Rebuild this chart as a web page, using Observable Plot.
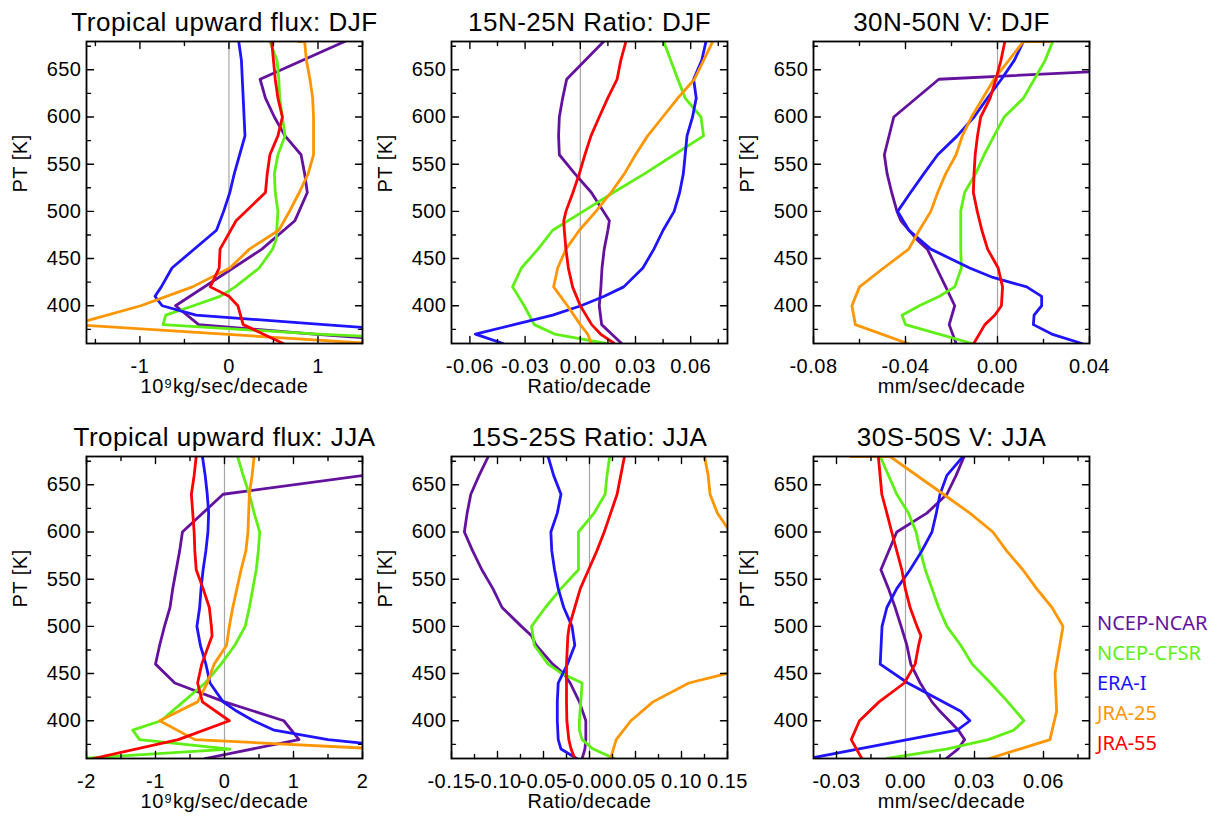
<!DOCTYPE html>
<html><head><meta charset="utf-8">
<script src="https://cdn.jsdelivr.net/npm/d3@7"></script>
<script src="https://cdn.jsdelivr.net/npm/@observablehq/plot@0.6"></script>
<style>
body{margin:0;background:#fff;width:1217px;height:821px;position:relative;overflow:hidden;font-family:"Liberation Sans",Arial,sans-serif}
.panel{position:absolute}
.leg{position:absolute;left:1097px;font-family:"Noto Sans",sans-serif;font-size:20px;line-height:20px;white-space:nowrap}
</style></head><body>
<div id="root"></div>
<script>
// Potential temperature levels (K)
const levels = [360,370,380,390,400,410,420,430,440,450,460,470,480,490,500,520,540,560,580,600,620,640,660,680];

// Tropical upward flux: DJF (10^9 kg/sec/decade)
const fluxDJF_ncar  = [2.4, 0.95, -0.34, null, -0.60, null, null, null, null, null, 0.37, null, null, 0.74, null, 0.88, 0.85, 0.81, 0.63, 0.51, 0.41, 0.35, null, 1.30];
const fluxDJF_cfsr  = [3.3, 1.0, -0.74, -0.71, -0.40, -0.10, 0.07, null, 0.34, null, 0.49, 0.53, null, null, 0.55, 0.52, 0.51, 0.55, 0.63, 0.60, 0.57, 0.56, 0.54, 0.46];
const fluxDJF_era   = [3.5, 2.5, 1.07, -0.37, -0.75, -0.83, -0.76, null, -0.64, null, null, null, -0.14, null, -0.06, 0.01, 0.06, 0.12, 0.18, 0.17, 0.16, 0.15, 0.14, 0.11];
const fluxDJF_jra25 = [1.6, null, -1.75, null, -0.99, null, -0.41, null, 0.01, null, 0.23, null, 0.56, null, 0.68, 0.79, 0.89, 0.95, 0.95, 0.95, 0.94, 0.91, 0.87, 0.85];
const fluxDJF_jra55 = [0.61, null, 0.16, null, 0.10, 0.0, -0.21, null, -0.11, null, -0.10, null, null, 0.08, null, 0.41, 0.43, 0.46, 0.55, 0.60, 0.55, 0.52, 0.50, 0.48];

// 15N-25N Ratio: DJF
const ratioDJF_ncar  = [0.0225, 0.017, 0.0116, null, 0.0103, null, 0.0112, null, 0.0118, null, 0.013, null, 0.015, 0.0158, null, 0.006, -0.003, -0.0114, -0.0118, -0.0114, -0.0096, -0.0074, null, 0.0127];
const ratioDJF_cfsr  = [0.014, -0.014, -0.025, null, -0.0305, null, -0.0368, null, -0.032, null, -0.023, null, -0.015, null, 0.0016, 0.018, 0.035, 0.051, 0.067, 0.0656, 0.057, 0.053, null, 0.0453];
const ratioDJF_era   = [-0.042, -0.057, -0.036, -0.015, 0.0004, 0.013, 0.0236, null, 0.034, null, 0.040, null, 0.045, null, 0.051, 0.054, 0.056, 0.057, 0.058, 0.061, 0.063, 0.0616, 0.066, 0.0683];
const ratioDJF_jra25 = [0.006, 0.004, 0.0, null, -0.007, null, -0.0145, null, -0.0123, null, -0.0078, null, -0.0005, null, 0.0085, 0.0167, 0.024, 0.030, 0.0366, 0.0448, 0.053, 0.062, 0.067, 0.072];
const ratioDJF_jra55 = [0.0185, 0.011, 0.0062, null, 0.0, null, -0.0042, null, -0.0065, null, -0.0078, null, -0.0087, -0.009, -0.0078, -0.004, -0.0005, 0.0025, 0.0058, 0.0103, 0.0149, 0.020, 0.022, 0.0248];

// 30N-50N V: DJF (mm/sec/decade)
const vDJF_ncar  = [-0.018, null, -0.021, null, -0.0186, null, -0.0225, null, -0.0265, null, -0.0305, -0.035, null, -0.042, -0.0437, -0.046, -0.048, -0.0492, null, -0.0451, null, -0.0255, 0.14, 0.2];
const vDJF_cfsr  = [-0.011, null, -0.040, -0.0415, -0.034, -0.0252, -0.0186, null, -0.0157, null, -0.016, null, -0.016, null, -0.016, -0.0143, -0.0095, -0.0058, -0.0015, 0.0029, 0.0113, 0.016, 0.0207, 0.024];
const vDJF_era   = [0.0367, 0.0236, 0.0156, 0.0159, 0.0192, 0.0192, 0.0127, -0.002, -0.0121, null, -0.029, null, -0.0385, null, -0.0434, -0.0378, -0.032, -0.026, -0.0175, -0.0102, -0.0044, 0.0017, 0.0073, 0.0113];
const vDJF_jra25 = [-0.039, null, -0.0618, null, -0.0633, null, -0.060, null, -0.0495, null, -0.0386, null, -0.034, null, -0.029, -0.026, -0.0225, -0.018, -0.0153, -0.0113, -0.0064, -0.0015, null, 0.0113];
const vDJF_jra55 = [-0.0103, null, -0.0055, -0.0012, 0.0017, null, 0.0022, null, 0.0003, null, -0.0043, null, -0.0068, null, -0.0088, -0.0105, -0.0102, -0.0097, -0.0087, -0.0073, -0.0032, -0.0007, 0.0015, 0.0032];

// Tropical upward flux: JJA
const fluxJJA_ncar  = [-0.28, null, 1.08, null, 0.86, null, 0.0, null, -0.72, null, -1.0, null, -0.94, null, -0.87, -0.79, -0.75, -0.70, -0.65, -0.61, null, -0.02, 2.02, 3.0];
const fluxJJA_cfsr  = [-2.1, 0.08, -1.23, -1.33, -0.92, null, -0.6, null, -0.28, null, -0.05, null, 0.15, null, 0.30, 0.36, 0.41, 0.46, 0.49, 0.51, 0.43, 0.36, 0.27, 0.19];
const fluxJJA_era   = [4, 2.8, 1.5, 0.72, 0.42, 0.18, -0.02, null, -0.21, null, -0.27, null, -0.35, null, -0.40, -0.36, -0.34, -0.31, -0.27, -0.24, -0.23, -0.25, -0.28, -0.32];
const fluxJJA_jra25 = [5, 2.3, -0.43, null, -0.94, null, -0.39, null, -0.25, null, -0.15, null, 0.03, null, 0.07, 0.12, 0.18, 0.24, 0.31, 0.34, 0.35, 0.36, 0.40, 0.43];
const fluxJJA_jra55 = [-1.9, null, -0.67, null, 0.07, null, -0.32, null, -0.39, null, -0.33, null, null, -0.18, -0.19, -0.22, -0.31, -0.41, -0.43, -0.44, -0.46, -0.48, -0.44, -0.41];

// 15S-25S Ratio: JJA
const ratioJJA_ncar  = [-0.008, -0.005, -0.004, null, -0.004, null, -0.011, null, -0.021, -0.028, -0.040, null, -0.058, -0.063, -0.074, -0.095, -0.105, -0.117, -0.127, -0.136, -0.133, -0.129, -0.120, -0.110];
const ratioJJA_cfsr  = [0.027, 0.004, -0.008, -0.011, -0.011, null, -0.0095, null, -0.008, -0.030, -0.045, null, -0.060, null, -0.063, -0.048, -0.031, -0.012, -0.012, -0.012, 0.005, 0.017, 0.019, 0.022];
const ratioJJA_era   = [-0.014, -0.031, -0.034, null, -0.035, null, -0.035, null, -0.034, -0.029, -0.024, null, -0.016, null, -0.019, -0.028, -0.034, -0.038, -0.041, -0.042, -0.035, -0.031, -0.039, -0.045];
const ratioJJA_jra25 = [0.023, null, 0.029, null, 0.045, null, 0.069, null, 0.108, null, 0.19, null, 0.25, null, 0.3, 0.3, 0.3, 0.3, 0.25, 0.153, 0.139, 0.131, 0.129, 0.125];
const ratioJJA_jra55 = [-0.016, -0.020, -0.0225, null, -0.0246, null, -0.025, null, -0.025, null, -0.025, null, -0.024, -0.0235, -0.022, -0.016, -0.010, -0.001, 0.008, 0.016, 0.023, 0.030, 0.034, 0.038];

// 30S-50S V: JJA
const vJJA_ncar  = [0.0177, 0.0228, 0.0257, 0.023, 0.019, 0.015, 0.0115, null, 0.0064, null, 0.0023, null, 0.0006, null, -0.0019, -0.0045, -0.0074, -0.0107, null, -0.0038, 0.0093, 0.018, 0.022, 0.0255];
const vJJA_cfsr  = [-0.008, 0.0177, 0.036, 0.047, 0.0515, 0.048, 0.0445, null, 0.037, null, 0.029, null, 0.024, null, 0.018, 0.0144, 0.0115, 0.0086, 0.0064, 0.0046, 0.0013, -0.0038, null, -0.011];
const vJJA_era   = [-0.042, null, null, 0.0225, 0.028, 0.024, null, null, 0.001, null, -0.011, null, -0.0106, null, -0.0102, -0.0081, -0.0038, 0.002, 0.0071, 0.0115, 0.0134, 0.015, 0.018, 0.025];
const vJJA_jra25 = [0.0364, null, 0.0628, null, null, 0.0657, null, null, null, 0.065, null, null, null, null, 0.0685, 0.0637, 0.057, 0.051, 0.044, 0.038, 0.028, 0.0165, null, -0.0067];
const vJJA_jra55 = [-0.019, null, -0.0236, null, -0.020, null, -0.0115, null, -0.0005, null, 0.0042, null, 0.0057, 0.0067, 0.005, 0.002, -0.0001, -0.0016, -0.0038, -0.006, -0.0081, -0.0103, null, -0.0118];

// JRA-25 extra point at the top level (horizontal cap), per panel
const jra25TopCap = [0.78, null, 0.023, 0.39, null, -0.024];

const seriesNames  = ["NCEP-NCAR", "NCEP-CFSR", "ERA-I", "JRA-25", "JRA-55"];
const seriesColors = ["#64129e", "#5ef014", "#2014ff", "#ff9600", "#ff0000"];

const panelTitles = ["Tropical upward flux: DJF", "15N-25N Ratio: DJF", "30N-50N V: DJF",
                     "Tropical upward flux: JJA", "15S-25S Ratio: JJA", "30S-50S V: JJA"];
const xTitles = ["10\u2079kg/sec/decade", "Ratio/decade", "mm/sec/decade",
                 "10\u2079kg/sec/decade", "Ratio/decade", "mm/sec/decade"];
const xDomains = [[-1.6, 1.5], [-0.07, 0.08], [-0.08, 0.04], [-2, 2], [-0.15, 0.15], [-0.04, 0.08]];
const xMajorTicks = [[-1, 0, 1], [-0.06, -0.03, 0, 0.03, 0.06], [-0.08, -0.04, 0, 0.04],
                     [-2, -1, 0, 1, 2], [-0.15, -0.10, -0.05, 0, 0.05, 0.10, 0.15], [-0.03, 0, 0.03, 0.06]];
const xMajorLabels = [["-1", "0", "1"], ["-0.06", "-0.03", "0.00", "0.03", "0.06"], ["-0.08", "-0.04", "0.00", "0.04"],
                      ["-2", "-1", "0", "1", "2"], ["-0.15", "-0.10", "-0.05", "-0.00", "0.05", "0.10", "0.15"], ["-0.03", "0.00", "0.03", "0.06"]];
const xMinorTicks = [[-1.5, -0.5, 0.5, 1.5], [-0.045, -0.015, 0.015, 0.045, 0.075], [-0.06, -0.02, 0.02],
                     [-1.5, -0.5, 0.5, 1.5], [-0.125, -0.075, -0.025, 0.025, 0.075, 0.125], [-0.015, 0.015, 0.045, 0.075]];
const yTickValues = [400, 450, 500, 550, 600, 650];
const yMinorTicks = [375, 425, 475, 525, 575, 625, 675];
const yTitle = "PT [K]";

const panelSeries = [
  [fluxDJF_ncar, fluxDJF_cfsr, fluxDJF_era, fluxDJF_jra25, fluxDJF_jra55],
  [ratioDJF_ncar, ratioDJF_cfsr, ratioDJF_era, ratioDJF_jra25, ratioDJF_jra55],
  [vDJF_ncar, vDJF_cfsr, vDJF_era, vDJF_jra25, vDJF_jra55],
  [fluxJJA_ncar, fluxJJA_cfsr, fluxJJA_era, fluxJJA_jra25, fluxJJA_jra55],
  [ratioJJA_ncar, ratioJJA_cfsr, ratioJJA_era, ratioJJA_jra25, ratioJJA_jra55],
  [vJJA_ncar, vJJA_cfsr, vJJA_era, vJJA_jra25, vJJA_jra55]
];

const root = document.getElementById("root");
const colLeft = [11, 376, 738];
const rowTop = [1, 416];

function tickMarks(data, channel, anchor, rotate, len) {
  const o = {frameAnchor: anchor, rotate, length: len, anchor: "start", r: 0, stroke: "#000", strokeWidth: 1.4};
  o[channel] = d => d;
  return Plot.vector(data, o);
}

panelSeries.forEach((series, p) => {
  const lineMarks = series.map((vals, s) => {
    const pts = levels.map((lv, i) => ({pt: lv, v: vals[i]})).filter(d => d.v !== null);
    if (s === 3 && jra25TopCap[p] !== null) pts.push({pt: levels[levels.length - 1], v: jra25TopCap[p]});
    return Plot.line(pts, {x: "v", y: "pt", stroke: seriesColors[s], strokeWidth: 2.8, clip: true, strokeLinejoin: "round"});
  });
  const chart = Plot.plot({
    width: 366, height: 397,
    marginLeft: 75, marginRight: 15, marginTop: 40, marginBottom: 55,
    x: {domain: xDomains[p], axis: null},
    y: {domain: [360, 680], axis: null},
    style: {fontFamily: "'Liberation Sans', Arial, sans-serif", letterSpacing: "0.5px", color: "#000", background: "transparent", overflow: "visible"},
    marks: [
      Plot.ruleX([0], {stroke: "#a6a6a6", strokeWidth: 1.2}),
      ...lineMarks,
      Plot.frame({stroke: "#000", strokeWidth: 1.8}),
      tickMarks(xMajorTicks[p], "x", "bottom", 0, 7),
      tickMarks(xMinorTicks[p], "x", "bottom", 0, 4),
      tickMarks(xMajorTicks[p], "x", "top", 180, 7),
      tickMarks(xMinorTicks[p], "x", "top", 180, 4),
      tickMarks(yTickValues, "y", "left", 90, 7),
      tickMarks(yMinorTicks, "y", "left", 90, 4),
      tickMarks(yTickValues, "y", "right", -90, 7),
      tickMarks(yMinorTicks, "y", "right", -90, 4),
      Plot.text(xMajorTicks[p], {x: d => d, frameAnchor: "bottom", dy: 15, lineAnchor: "top", fontSize: 20,
        text: d => xMajorLabels[p][xMajorTicks[p].indexOf(d)]}),
      Plot.text(yTickValues, {y: d => d, frameAnchor: "left", dx: -5, textAnchor: "end", lineAnchor: "middle", fontSize: 20, text: d => String(d)}),
      Plot.text([panelTitles[p]], {frameAnchor: "top", dy: -19, lineAnchor: "middle", fontSize: 26, text: d => d}),
      Plot.text([xTitles[p]], {frameAnchor: "bottom", dy: 43.5, lineAnchor: "middle", fontSize: 20, text: d => d}),
      Plot.text([yTitle], {frameAnchor: "left", dx: -66, rotate: -90, lineAnchor: "middle", fontSize: 20, text: d => d})
    ]
  });
  const div = document.createElement("div");
  div.className = "panel";
  div.style.left = colLeft[p % 3] + "px";
  div.style.top = rowTop[Math.floor(p / 3)] + "px";
  div.appendChild(chart);
  root.appendChild(div);
});

// legend
seriesNames.forEach((name, s) => {
  const d = document.createElement("div");
  d.className = "leg";
  d.style.top = (613 + 30 * s) + "px";
  d.style.color = seriesColors[s];
  d.textContent = name;
  root.appendChild(d);
});
</script></body></html>
